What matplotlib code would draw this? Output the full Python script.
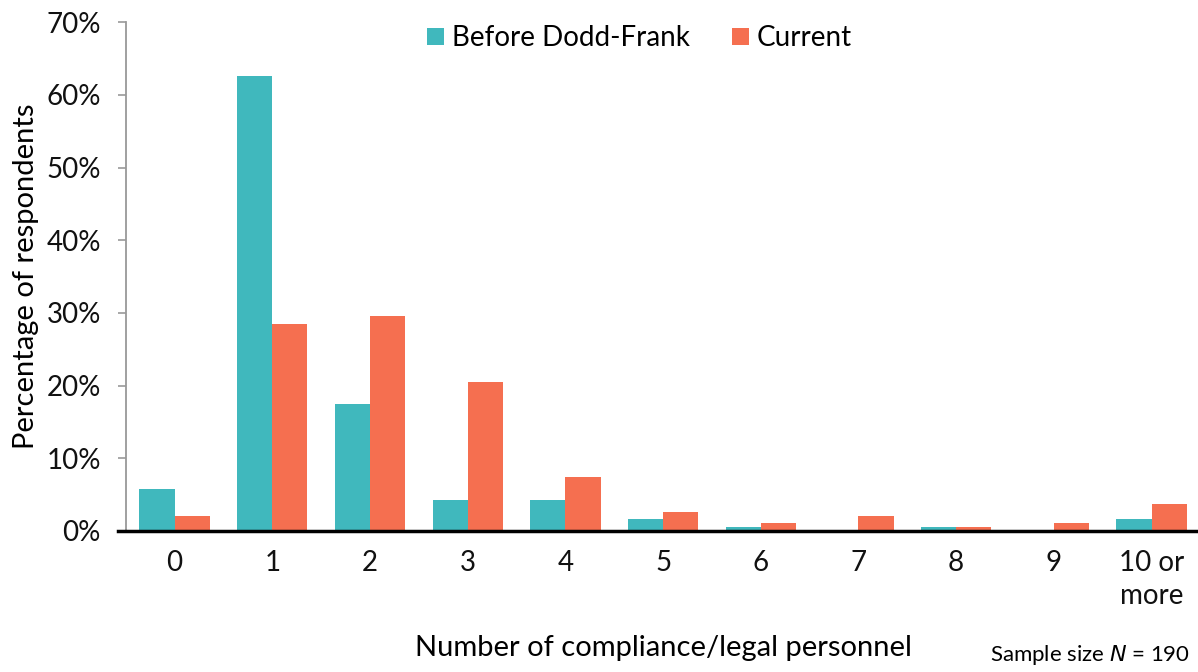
import matplotlib
matplotlib.use('Agg')
import matplotlib.pyplot as plt
import numpy as np

categories = ['0', '1', '2', '3', '4', '5', '6', '7', '8', '9', '10 or\nmore']
before = [5.8, 62.6, 17.4, 4.2, 4.2, 1.6, 0.5, 0.0, 0.5, 0.0, 1.6]
current = [2.1, 28.4, 29.5, 20.5, 7.4, 2.6, 1.1, 2.1, 0.5, 1.1, 3.7]
yticks = [0, 10, 20, 30, 40, 50, 60, 70]

teal = '#40B8BD'
orange = '#F56F50'

plt.rcParams['font.family'] = ['Lato', 'DejaVu Sans']

fig = plt.figure(figsize=(11.98, 6.72), dpi=100)
ax = fig.add_axes([0.105, 0.21, 0.897, 0.757])

x = np.arange(len(categories))
w = 0.36
ax.bar(x - w / 2, before, w, color=teal, label='Before Dodd-Frank', zorder=2)
ax.bar(x + w / 2, current, w, color=orange, label='Current', zorder=2)

ax.set_xlim(-0.5, len(categories) - 0.5)
ax.set_ylim(0, 70)
ax.set_yticks(yticks)
ax.set_yticklabels([f'{t}%' for t in yticks], fontsize=20, color='#111111')
ax.set_xticks(x)
ax.set_xticklabels(categories, fontsize=20, color='#111111', linespacing=1.3)
ax.tick_params(axis='x', length=0, pad=14)
ax.tick_params(axis='y', length=6, width=1.2, color='#999999', pad=12)

for s in ['top', 'right', 'bottom']:
    ax.spines[s].set_visible(False)
ax.spines['left'].set_color('#999999')
ax.spines['left'].set_linewidth(1.3)
ax.plot([-0.58, len(categories) - 0.5], [0, 0], color='black', lw=2.5,
        clip_on=False, zorder=3)

ax.set_ylabel('Percentage of respondents', fontsize=21, labelpad=5)
ax.set_xlabel('Number of compliance/legal personnel', fontsize=21, labelpad=19)

fig.legend(loc='center', bbox_to_anchor=(0.534, 0.943), ncol=2, frameon=False,
           fontsize=20, handlelength=0.6, handleheight=0.6, handletextpad=0.3,
           columnspacing=1.5)

fig.text(0.993, 0.008, 'Sample size $\\it{N}$ = 190', fontsize=16,
         ha='right', va='bottom')

fig.savefig('out.png', dpi=100)
